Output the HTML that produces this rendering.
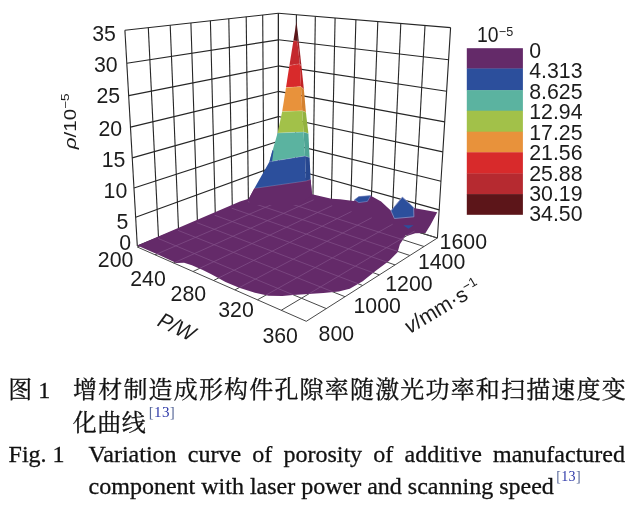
<!DOCTYPE html>
<html lang="zh"><head><meta charset="utf-8"><title>Fig. 1</title>
<style>
html,body{margin:0;padding:0;background:#fff;}
body{width:643px;height:510px;position:relative;overflow:hidden;}
svg{position:absolute;left:0;top:0;}
svg text{font-family:"Liberation Sans",sans-serif;fill:#1c1c1c;}
.cap{position:absolute;color:#111;white-space:nowrap;line-height:1;-webkit-text-stroke:0.3px #111;}
.zh{font-family:"Liberation Serif","Noto Serif CJK SC",serif;font-size:24px;}
.en{font-family:"Liberation Serif",serif;font-size:24px;}
.ref{-webkit-text-stroke:0;color:#2b36a8;font-size:14px;position:relative;letter-spacing:0.3px;}
.ref i{font-style:normal;color:#5a6a9a;}
#fig{position:absolute;left:0;top:0;width:643px;height:510px;background:#fff;will-change:transform;opacity:0.9999;}
</style></head><body>
<div id="fig">
<svg width="643" height="510" viewBox="0 0 643 510">
<g shape-rendering="geometricPrecision">
<line x1="137.3" y1="245.9" x2="124.9" y2="30.2" stroke="#262626" stroke-width="1.1"/>
<line x1="278.4" y1="189.0" x2="278.4" y2="13.3" stroke="#262626" stroke-width="1.1"/>
<line x1="158.5" y1="237.4" x2="148.3" y2="27.6" stroke="#262626" stroke-width="1.1"/>
<line x1="295.3" y1="194.2" x2="296.4" y2="14.8" stroke="#262626" stroke-width="1.1"/>
<line x1="178.5" y1="229.3" x2="170.2" y2="25.2" stroke="#262626" stroke-width="1.1"/>
<line x1="312.9" y1="199.6" x2="315.3" y2="16.4" stroke="#262626" stroke-width="1.1"/>
<line x1="197.4" y1="221.7" x2="190.9" y2="22.9" stroke="#262626" stroke-width="1.1"/>
<line x1="331.3" y1="205.3" x2="335.1" y2="18.0" stroke="#262626" stroke-width="1.1"/>
<line x1="215.3" y1="214.5" x2="210.4" y2="20.8" stroke="#262626" stroke-width="1.1"/>
<line x1="350.6" y1="211.2" x2="355.9" y2="19.7" stroke="#262626" stroke-width="1.1"/>
<line x1="232.3" y1="207.6" x2="228.8" y2="18.8" stroke="#262626" stroke-width="1.1"/>
<line x1="370.7" y1="217.5" x2="377.8" y2="21.6" stroke="#262626" stroke-width="1.1"/>
<line x1="248.4" y1="201.1" x2="246.2" y2="16.8" stroke="#262626" stroke-width="1.1"/>
<line x1="391.9" y1="224.0" x2="400.8" y2="23.5" stroke="#262626" stroke-width="1.1"/>
<line x1="263.8" y1="194.9" x2="262.7" y2="15.0" stroke="#262626" stroke-width="1.1"/>
<line x1="414.1" y1="230.8" x2="425.0" y2="25.5" stroke="#262626" stroke-width="1.1"/>
<line x1="278.4" y1="189.0" x2="278.4" y2="13.3" stroke="#262626" stroke-width="1.1"/>
<line x1="437.4" y1="238.0" x2="450.6" y2="27.6" stroke="#262626" stroke-width="1.1"/>
<line x1="137.3" y1="245.9" x2="278.4" y2="189.0" stroke="#262626" stroke-width="1.1"/>
<line x1="278.4" y1="189.0" x2="437.4" y2="238.0" stroke="#262626" stroke-width="1.1"/>
<line x1="135.7" y1="217.2" x2="278.4" y2="165.3" stroke="#262626" stroke-width="1.1"/>
<line x1="278.4" y1="165.3" x2="439.2" y2="209.9" stroke="#262626" stroke-width="1.1"/>
<line x1="134.0" y1="187.9" x2="278.4" y2="141.2" stroke="#262626" stroke-width="1.1"/>
<line x1="278.4" y1="141.1" x2="441.0" y2="181.3" stroke="#262626" stroke-width="1.1"/>
<line x1="132.2" y1="157.9" x2="278.4" y2="116.6" stroke="#262626" stroke-width="1.1"/>
<line x1="278.4" y1="116.5" x2="442.8" y2="151.9" stroke="#262626" stroke-width="1.1"/>
<line x1="130.5" y1="127.1" x2="278.4" y2="91.5" stroke="#262626" stroke-width="1.1"/>
<line x1="278.4" y1="91.4" x2="444.7" y2="121.9" stroke="#262626" stroke-width="1.1"/>
<line x1="128.7" y1="95.6" x2="278.4" y2="66.0" stroke="#262626" stroke-width="1.1"/>
<line x1="278.4" y1="65.9" x2="446.6" y2="91.2" stroke="#262626" stroke-width="1.1"/>
<line x1="126.8" y1="63.3" x2="278.4" y2="39.9" stroke="#262626" stroke-width="1.1"/>
<line x1="278.4" y1="39.8" x2="448.6" y2="59.8" stroke="#262626" stroke-width="1.1"/>
<line x1="124.9" y1="30.2" x2="278.4" y2="13.3" stroke="#262626" stroke-width="1.1"/>
<line x1="278.4" y1="13.3" x2="450.6" y2="27.6" stroke="#262626" stroke-width="1.1"/>
<line x1="137.3" y1="247.0" x2="278.4" y2="189.0" stroke="#484848" stroke-width="1.0"/>
<line x1="137.3" y1="247.0" x2="306.3" y2="321.3" stroke="#484848" stroke-width="1.0"/>
<line x1="155.0" y1="254.8" x2="295.6" y2="194.3" stroke="#484848" stroke-width="1.0"/>
<line x1="158.1" y1="238.4" x2="326.3" y2="308.6" stroke="#484848" stroke-width="1.0"/>
<line x1="173.6" y1="263.0" x2="313.6" y2="199.8" stroke="#484848" stroke-width="1.0"/>
<line x1="177.9" y1="230.3" x2="345.0" y2="296.7" stroke="#484848" stroke-width="1.0"/>
<line x1="193.0" y1="271.5" x2="332.2" y2="205.6" stroke="#484848" stroke-width="1.0"/>
<line x1="196.7" y1="222.6" x2="362.7" y2="285.5" stroke="#484848" stroke-width="1.0"/>
<line x1="213.5" y1="280.5" x2="351.5" y2="211.5" stroke="#484848" stroke-width="1.0"/>
<line x1="214.6" y1="215.2" x2="379.3" y2="274.9" stroke="#484848" stroke-width="1.0"/>
<line x1="234.9" y1="289.9" x2="371.7" y2="217.7" stroke="#484848" stroke-width="1.0"/>
<line x1="231.7" y1="208.2" x2="395.0" y2="264.9" stroke="#484848" stroke-width="1.0"/>
<line x1="257.5" y1="299.8" x2="392.7" y2="224.2" stroke="#484848" stroke-width="1.0"/>
<line x1="247.9" y1="201.5" x2="409.9" y2="255.5" stroke="#484848" stroke-width="1.0"/>
<line x1="281.2" y1="310.3" x2="414.6" y2="231.0" stroke="#484848" stroke-width="1.0"/>
<line x1="263.5" y1="195.1" x2="424.0" y2="246.5" stroke="#484848" stroke-width="1.0"/>
<line x1="306.3" y1="321.3" x2="437.4" y2="238.0" stroke="#484848" stroke-width="1.0"/>
<line x1="278.4" y1="189.0" x2="437.4" y2="238.0" stroke="#484848" stroke-width="1.0"/>
<polygon points="137.3,245.5 240.0,201.6 248.8,198.8 254.3,188.4 280.0,170.0 310.6,179.6 312.0,194.3 331.4,198.8 340.0,199.2 353.7,200.9 358.8,196.8 370.8,195.7 381.1,201.4 391.3,211.1 402.4,199.0 413.6,208.0 437.2,212.2 430.6,224.7 425.5,233.0 415.3,233.2 408.4,235.6 405.9,234.9 399.9,244.2 397.6,252.2 388.9,260.9 375.8,270.7 362.7,281.3 349.7,288.8 338.8,291.6 323.5,293.0 308.3,294.0 293.0,295.0 282.4,296.0 268.6,295.7 254.9,292.7 239.2,287.8 225.5,282.0 211.8,274.6 202.8,270.0 191.9,265.3 184.1,262.7 176.3,263.0 159.0,255.0" fill="#642a69"/>
<clipPath id="pc"><polygon points="137.3,245.5 240.0,201.6 248.8,198.8 254.3,188.4 280.0,170.0 310.6,179.6 312.0,194.3 331.4,198.8 340.0,199.2 353.7,200.9 358.8,196.8 370.8,195.7 381.1,201.4 391.3,211.1 402.4,199.0 413.6,208.0 437.2,212.2 430.6,224.7 425.5,233.0 415.3,233.2 408.4,235.6 405.9,234.9 399.9,244.2 397.6,252.2 388.9,260.9 375.8,270.7 362.7,281.3 349.7,288.8 338.8,291.6 323.5,293.0 308.3,294.0 293.0,295.0 282.4,296.0 268.6,295.7 254.9,292.7 239.2,287.8 225.5,282.0 211.8,274.6 202.8,270.0 191.9,265.3 184.1,262.7 176.3,263.0 159.0,255.0"/></clipPath>
<g clip-path="url(#pc)" opacity="0.5">
<polyline points="158.1,238.4 234.1,270.2 326.3,308.6" fill="none" stroke="#9a70a2" stroke-width="0.8"/>
<polyline points="155.0,254.8 232.2,221.6 295.6,194.3" fill="none" stroke="#9a70a2" stroke-width="0.8"/>
<polyline points="177.9,230.3 253.7,260.4 345.0,296.7" fill="none" stroke="#9a70a2" stroke-width="0.8"/>
<polyline points="173.6,263.0 250.5,228.3 313.6,199.8" fill="none" stroke="#9a70a2" stroke-width="0.8"/>
<polyline points="196.7,222.6 272.1,251.2 362.7,285.5" fill="none" stroke="#9a70a2" stroke-width="0.8"/>
<polyline points="193.0,271.5 269.7,235.2 332.2,205.6" fill="none" stroke="#9a70a2" stroke-width="0.8"/>
<polyline points="214.6,215.2 289.7,242.4 379.3,274.9" fill="none" stroke="#9a70a2" stroke-width="0.8"/>
<polyline points="213.5,280.5 289.7,242.4 351.5,211.5" fill="none" stroke="#9a70a2" stroke-width="0.8"/>
<polyline points="231.7,208.2 306.3,234.1 395.0,264.9" fill="none" stroke="#9a70a2" stroke-width="0.8"/>
<polyline points="234.9,289.9 310.6,250.0 371.7,217.7" fill="none" stroke="#9a70a2" stroke-width="0.8"/>
<polyline points="247.9,201.5 322.1,226.2 409.9,255.5" fill="none" stroke="#9a70a2" stroke-width="0.8"/>
<polyline points="257.5,299.8 332.4,257.9 392.7,224.2" fill="none" stroke="#9a70a2" stroke-width="0.8"/>
<polyline points="263.5,195.1 337.2,218.7 424.0,246.5" fill="none" stroke="#9a70a2" stroke-width="0.8"/>
<polyline points="281.2,310.3 355.3,266.2 414.6,231.0" fill="none" stroke="#9a70a2" stroke-width="0.8"/>
</g>
<polygon points="296.5,21.2 297.3,41.0 293.4,40.8" fill="#5c1519"/>
<polygon points="296.5,21.2 298.8,41.5 297.3,41.0" fill="#4a1014"/>
<polygon points="293.4,40.8 297.3,41.0 299.8,63.8 289.4,65.4" fill="#c4292e"/>
<polygon points="297.3,41.0 298.8,41.5 301.5,66.5 299.8,63.8" fill="#a3252a"/>
<polygon points="289.4,65.4 299.8,63.8 301.0,86.6 286.0,87.6" fill="#d82a2b"/>
<polygon points="299.8,63.8 301.5,66.5 303.9,89.5 301.0,86.6" fill="#bf2426"/>
<polygon points="286.0,87.6 301.0,86.6 302.2,110.8 282.2,111.5" fill="#e8923b"/>
<polygon points="301.0,86.6 303.9,89.5 305.9,112.2 302.2,110.8" fill="#d4812f"/>
<polygon points="282.2,111.5 302.2,110.8 303.5,132.0 277.6,133.0" fill="#a2c149"/>
<polygon points="302.2,110.8 305.9,112.2 308.4,133.5 303.5,132.0" fill="#93b23f"/>
<polygon points="277.6,133.0 303.5,132.0 305.0,156.0 269.4,161.8" fill="#5bb3a0"/>
<polygon points="303.5,132.0 308.4,133.5 309.6,157.6 305.0,156.0" fill="#4fa595"/>
<polygon points="269.4,161.8 305.0,156.0 306.0,181.0 254.3,188.4" fill="#2c4f9c"/>
<polygon points="305.0,156.0 309.6,157.6 310.6,179.6 306.0,181.0" fill="#27478f"/>
<polygon points="269.4,161.8 272.5,150.0 273.5,151.0 272.0,162.0" fill="#2c4f9c"/>
<polygon points="254.3,188.4 279.0,187.6 306.0,181.0 310.6,179.6 312.0,194.5 300.0,205.0 250.0,205.0 248.8,198.8" fill="#642a69"/>
<polyline points="293.4,40.8 297.3,41.0 298.8,41.5" fill="none" stroke="#ffffff" stroke-width="0.5" opacity="0.35"/>
<polyline points="289.4,65.4 299.8,63.8 301.5,66.5" fill="none" stroke="#ffffff" stroke-width="0.5" opacity="0.35"/>
<polyline points="286.0,87.6 301.0,86.6 303.9,89.5" fill="none" stroke="#ffffff" stroke-width="0.5" opacity="0.35"/>
<polyline points="282.2,111.5 302.2,110.8 305.9,112.2" fill="none" stroke="#ffffff" stroke-width="0.5" opacity="0.35"/>
<polyline points="277.6,133.0 303.5,132.0 308.4,133.5" fill="none" stroke="#ffffff" stroke-width="0.5" opacity="0.35"/>
<polyline points="269.4,161.8 305.0,156.0 309.6,157.6" fill="none" stroke="#ffffff" stroke-width="0.5" opacity="0.35"/>
<polyline points="254.3,188.4 306.0,181.0 310.6,179.6" fill="none" stroke="#ffffff" stroke-width="0.5" opacity="0.35"/>
<polygon points="354.5,199.7 358.8,196.6 370.8,195.5 367.4,201.4 358.8,202.6" fill="#2c4f9c" stroke="#7f8fc8" stroke-width="0.6"/>
<polygon points="391.0,210.8 402.4,197.1 413.6,207.4 413.9,216.8 394.4,218.5" fill="#2c4f9c" stroke="#8a93c6" stroke-width="0.8"/>
<polygon points="403.3,225.3 413.6,225.3 408.4,228.8" fill="#2c4f9c"/>
</g>
<g>
<rect x="466.8" y="48.2" width="56.1" height="20.6" fill="#642a69"/>
<rect x="466.8" y="68.5" width="56.1" height="21.9" fill="#2c4f9c"/>
<rect x="466.8" y="90.1" width="56.1" height="20.9" fill="#5bb3a0"/>
<rect x="466.8" y="110.7" width="56.1" height="21.3" fill="#a2c149"/>
<rect x="466.8" y="131.7" width="56.1" height="20.9" fill="#e8923b"/>
<rect x="466.8" y="152.3" width="56.1" height="21.5" fill="#d82a2b"/>
<rect x="466.8" y="173.5" width="56.1" height="20.9" fill="#b62a30"/>
<rect x="466.8" y="194.1" width="56.1" height="20.7" fill="#5c1519"/>
</g>
<g>
<text x="115.9" y="41.3" font-size="21.3" text-anchor="end">35</text>
<text x="117.6" y="72.2" font-size="21.3" text-anchor="end">30</text>
<text x="120.2" y="103.4" font-size="21.3" text-anchor="end">25</text>
<text x="122.2" y="135.6" font-size="21.3" text-anchor="end">20</text>
<text x="125.4" y="167.0" font-size="21.3" text-anchor="end">15</text>
<text x="127.3" y="198.4" font-size="21.3" text-anchor="end">10</text>
<text x="128.4" y="228.6" font-size="21.3" text-anchor="end">5</text>
<text x="131.0" y="249.8" font-size="21.3" text-anchor="end">0</text>
<text x="97.8" y="266.7" font-size="21.3" text-anchor="start">200</text>
<text x="130.2" y="286.1" font-size="21.3" text-anchor="start">240</text>
<text x="170.6" y="300.7" font-size="21.3" text-anchor="start">280</text>
<text x="218.2" y="317.2" font-size="21.3" text-anchor="start">320</text>
<text x="262.4" y="342.5" font-size="21.3" text-anchor="start">360</text>
<text x="439.6" y="248.8" font-size="21.3" text-anchor="start">1600</text>
<text x="417.9" y="269.2" font-size="21.3" text-anchor="start">1400</text>
<text x="385.2" y="290.7" font-size="21.3" text-anchor="start">1200</text>
<text x="353.5" y="312.5" font-size="21.3" text-anchor="start">1000</text>
<text x="318.6" y="340.6" font-size="21.3" text-anchor="start">800</text>
<text transform="translate(76.4,149.2) rotate(-90) scale(0.965,0.78)" font-size="21.3"><tspan font-style="italic">ρ</tspan>/10<tspan font-size="14" dy="-10">−5</tspan></text>
<text transform="translate(156.3,325.2) rotate(25.6) scale(0.955,1.02)" font-size="21.3" font-style="italic">P/W</text>
<text transform="translate(409.4,334.2) rotate(-30.8)" font-size="21.3"><tspan font-style="italic">v</tspan>/mm·s<tspan font-size="13" dy="-8">−1</tspan></text>
<text x="529.2" y="57.9" font-size="21.3" text-anchor="start">0</text>
<text x="529.2" y="78.3" font-size="21.3" text-anchor="start">4.313</text>
<text x="529.2" y="98.8" font-size="21.3" text-anchor="start">8.625</text>
<text x="529.2" y="119.2" font-size="21.3" text-anchor="start">12.94</text>
<text x="529.2" y="139.6" font-size="21.3" text-anchor="start">17.25</text>
<text x="529.2" y="160.1" font-size="21.3" text-anchor="start">21.56</text>
<text x="529.2" y="180.5" font-size="21.3" text-anchor="start">25.88</text>
<text x="529.2" y="200.9" font-size="21.3" text-anchor="start">30.19</text>
<text x="529.2" y="221.3" font-size="21.3" text-anchor="start">34.50</text>
<text transform="translate(476.9,42.2) scale(0.91,1)" font-size="21.3">10</text>
<text x="498.8" y="35.7" font-size="12.6">−5</text>
</g>
</svg>
<div class="cap zh" id="z0" style="left:8.2px;top:378.4px;">图</div>
<div class="cap zh" id="z0b" style="left:38.2px;top:378.4px;">1</div>
<div class="cap zh" id="z1" style="left:73.1px;top:378.4px;letter-spacing:1.17px;">增材制造成形构件孔隙率随激光功率和扫描速度变</div>
<div class="cap zh" id="z2" style="left:72.8px;top:410.8px;letter-spacing:0.5px;">化曲线<span class="ref" style="top:-13.5px;left:2.5px;font-size:15px;"><i>[</i>13<i>]</i></span></div>
<div class="cap en" id="e0" style="left:8.6px;top:441.5px;">Fig. 1</div>
<div class="cap en" id="e1" style="left:88.6px;top:441.5px;word-spacing:5.2px;">Variation curve of porosity of additive manufactured</div>
<div class="cap en" id="e2" style="left:88.6px;top:473.6px;">component with laser power and scanning speed<span class="ref" style="top:-13px;left:2.5px;"><i>[</i>13<i>]</i></span></div>
</div>
</body></html>
